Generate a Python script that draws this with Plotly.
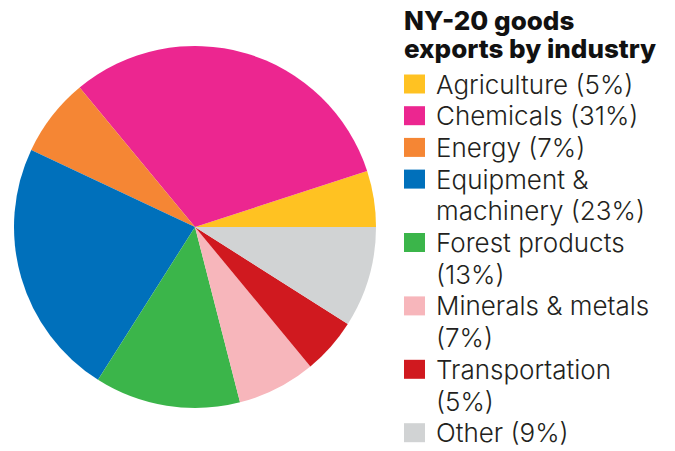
import plotly.graph_objects as go

categories = ["Agriculture", "Chemicals", "Energy", "Equipment & machinery",
              "Forest products", "Minerals & metals", "Transportation", "Other"]
shares = [5, 31, 7, 23, 13, 7, 5, 9]
legend_lines = [["Agriculture (5%)"], ["Chemicals (31%)"], ["Energy (7%)"],
                ["Equipment &", "machinery (23%)"], ["Forest products", "(13%)"],
                ["Minerals & metals", "(7%)"], ["Transportation", "(5%)"], ["Other (9%)"]]
colors = ["#FFC222", "#EC2690", "#F58634", "#0070BB", "#3BB54A", "#F7B6BB", "#D0191F", "#D1D3D4"]
title_lines = ["NY-20 goods", "exports by industry"]

W, H = 675, 451
cx, cy, r = 195, 227, 181

fig = go.Figure(go.Pie(
    labels=categories, values=shares, sort=False, direction="counterclockwise",
    rotation=72, marker=dict(colors=colors, line=dict(width=0)),
    textinfo="none", hoverinfo="label+percent", showlegend=False,
    domain=dict(x=[(cx - r) / W, (cx + r) / W], y=[(H - cy - r) / H, (H - cy + r) / H]),
))

annotations = []
shapes = []
font_light = dict(family="Inter", size=26, color="#231F20", weight=300)
font_bold = dict(family="Inter", size=26, color="#111111", weight=800)

def py(y):
    return 1 - y / H

def px(x):
    return x / W

# title
for i, t in enumerate(title_lines):
    y = 21 + i * 27
    annotations.append(dict(text=t, x=px(402), y=py(y), xref="paper", yref="paper",
                            xanchor="left", yanchor="middle", showarrow=False, font=font_bold))

line_h = 31.7
line = 0
for lines, c in zip(legend_lines, colors):
    y0 = 84 + line * line_h
    shapes.append(dict(type="rect", xref="paper", yref="paper",
                       x0=px(404), x1=px(425), y0=py(y0 - 9.5), y1=py(y0 + 9.5),
                       fillcolor=c, line=dict(width=0)))
    for t in lines:
        y = 84 + line * line_h
        annotations.append(dict(text=t, x=px(434), y=py(y), xref="paper", yref="paper",
                                xanchor="left", yanchor="middle", showarrow=False, font=font_light))
        line += 1

fig.update_layout(width=W, height=H, margin=dict(l=0, r=0, t=0, b=0),
                  paper_bgcolor="white", plot_bgcolor="white",
                  annotations=annotations, shapes=shapes)
fig.write_html("out.html", config={"displayModeBar": False},
               post_script="document.body.style.margin='0px';")
